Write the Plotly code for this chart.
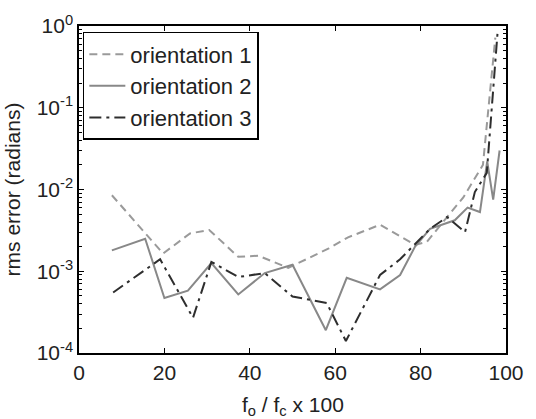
import plotly.graph_objects as go

# ---- data ----
x1 = [7.7, 19.7, 26, 30.5, 37.3, 42, 49, 58.5, 63, 70.5, 78.7, 81.5, 86.2, 90, 94.6, 97.5]
y1 = [8.5e-3, 1.65e-3, 2.9e-3, 3.2e-3, 1.5e-3, 1.55e-3, 1.1e-3, 1.9e-3, 2.6e-3, 3.7e-3,
      2.1e-3, 2.3e-3, 4.6e-3, 8e-3, 0.02, 0.72]

x2 = [7.7, 15.5, 20, 25.5, 31, 37.3, 43.5, 50, 57.8, 62.7, 70.5, 75.2, 78.7, 82.2, 88,
      91, 93.9, 95.6, 97, 98.5]
y2 = [1.8e-3, 2.5e-3, 4.7e-4, 5.8e-4, 1.26e-3, 5.2e-4, 9.5e-4, 1.2e-3, 1.9e-4, 8.3e-4,
      6e-4, 9e-4, 2e-3, 3.3e-3, 4.2e-3, 6e-3, 5.3e-3, 0.022, 7.5e-3, 0.03]

x3 = [8, 19, 26.7, 31, 37.3, 43.5, 50, 58, 62.5, 70.5, 75.2, 82.2, 86.2, 90.4, 92.7, 95.5, 98]
y3 = [5.5e-4, 1.4e-3, 2.7e-4, 1.3e-3, 8.5e-4, 9.5e-4, 4.9e-4, 4.1e-4, 1.4e-4, 9e-4,
      1.4e-3, 3.3e-3, 4.6e-3, 3e-3, 9.3e-3, 0.016, 0.8]

names = ["orientation 1", "orientation 2", "orientation 3"]
x_ticks = [0, 20, 40, 60, 80, 100]
y_ticks = [1e-4, 1e-3, 1e-2, 1e-1, 1]
y_tick_text = ["10<sup>-4</sup>", "10<sup>-3</sup>", "10<sup>-2</sup>", "10<sup>-1</sup>", "10<sup>0</sup>"]
y_minor = [m * 10 ** e for e in range(-4, 0) for m in range(2, 10)]

FONT = "Liberation Sans, Arial, sans-serif"

fig = go.Figure()
fig.add_trace(go.Scatter(x=x1, y=y1, mode="lines", name=names[0],
                         line=dict(color="#9a9a9a", width=2, dash="8px,5px")))
fig.add_trace(go.Scatter(x=x2, y=y2, mode="lines", name=names[1],
                         line=dict(color="#888888", width=2)))
fig.add_trace(go.Scatter(x=x3, y=y3, mode="lines", name=names[2],
                         line=dict(color="#2e2e2e", width=2, dash="12px,5px,3px,5px")))

axis_common = dict(showline=True, linecolor="black", linewidth=1.5, mirror="allticks",
                   ticks="inside", ticklen=5, tickcolor="black", tickwidth=1.2,
                   showgrid=False, zeroline=False,
                   tickfont=dict(family=FONT, size=21, color="#222"))

fig.update_xaxes(range=[0, 100], tickmode="array", tickvals=x_ticks, **axis_common)
fig.update_yaxes(type="log", range=[-4, 0], tickmode="array", tickvals=y_ticks,
                 ticktext=y_tick_text,
                 minor=dict(tickmode="array", tickvals=y_minor, ticks="inside", ticklen=3,
                            tickcolor="black", tickwidth=1),
                 title=dict(text="rms error (radians)", font=dict(family=FONT, size=21, color="#222"),
                            standoff=10),
                 **axis_common)

fig.add_annotation(text="f<sub>o</sub> / f<sub>c</sub> x 100", xref="paper", yref="paper",
                   x=0.5, y=-0.162, xanchor="center", yanchor="middle", showarrow=False,
                   font=dict(family=FONT, size=21, color="#222"))

fig.update_layout(
    width=536, height=419,
    margin=dict(l=79, r=30, t=26, b=66, autoexpand=False),
    paper_bgcolor="white", plot_bgcolor="white",
    font=dict(family=FONT, size=21, color="#222"),
    legend=dict(x=0.009, y=0.982, xanchor="left", yanchor="top",
                bgcolor="white", bordercolor="black", borderwidth=1.5,
                font=dict(family=FONT, size=22, color="#222"),
                tracegroupgap=0, itemwidth=36),
    showlegend=True,
)

fig.write_html("out.html", config={"displayModeBar": False},
               post_script="document.body.style.margin='0';document.body.style.overflow='hidden';")
